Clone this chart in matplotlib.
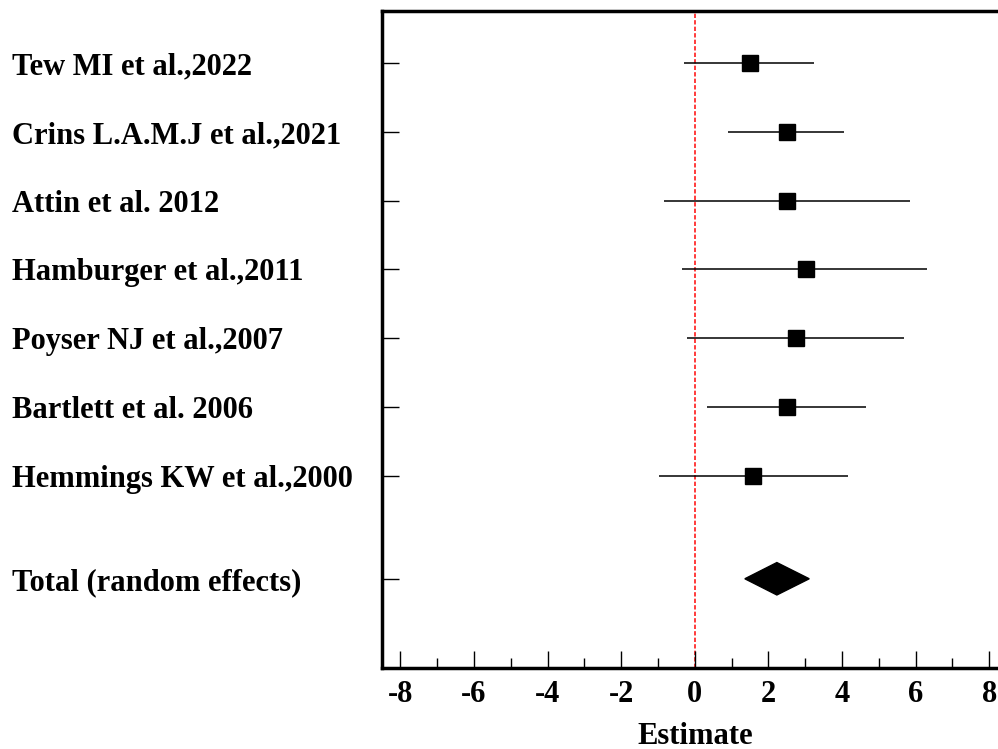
import matplotlib
matplotlib.use("Agg")
import matplotlib.pyplot as plt
import matplotlib.transforms as mtransforms
from matplotlib.patches import Polygon
from matplotlib.ticker import MultipleLocator

# Study data
studies = ["Tew MI et al.,2022", "Crins L.A.M.J et al.,2021", "Attin et al. 2012",
           "Hamburger et al.,2011", "Poyser NJ et al.,2007", "Bartlett et al. 2006",
           "Hemmings KW et al.,2000"]
estimate = [1.49, 2.50, 2.50, 3.03, 2.74, 2.50, 1.59]
lower = [-0.30, 0.91, -0.83, -0.34, -0.20, 0.33, -0.96]
upper = [3.25, 4.06, 5.84, 6.32, 5.69, 4.64, 4.15]

total_label = "Total (random effects)"
total_est = 2.23
total_low = 1.36
total_up = 3.11

plt.rcParams['font.family'] = ['Liberation Serif', 'DejaVu Serif']
plt.rcParams['font.weight'] = 'bold'

fig = plt.figure(figsize=(9.98, 7.49), dpi=100)
W, H = 998, 749
left, right, top, bottom = 382, 1007.6, 11, 667.7
ax = fig.add_axes([left / W, 1 - bottom / H, (right - left) / W, (bottom - top) / H])

rows = list(range(len(studies)))
total_row = 7.5

# confidence intervals and point estimates
for y, est, lo, hi in zip(rows, estimate, lower, upper):
    ax.plot([lo, hi], [y, y], color="black", lw=1.1, solid_capstyle="butt", zorder=2)
    ax.plot(est, y, marker="s", color="black", markersize=11.3, zorder=3)

# pooled diamond
half_h = 0.236
diamond = Polygon([(total_low, total_row), (total_est, total_row - half_h),
                   (total_up, total_row), (total_est, total_row + half_h)],
                  closed=True, facecolor="black", edgecolor="black", zorder=3)
ax.add_patch(diamond)

# zero line
ax.axvline(0, color="#ff1a1a", lw=1.2, linestyle=(0, (2.6, 1.3)), zorder=1)

ax.set_xlim(-8.5, 8.5)
ax.set_ylim(8.794, -0.761)

ax.xaxis.set_major_locator(MultipleLocator(2))
ax.xaxis.set_minor_locator(MultipleLocator(1))
ax.tick_params(axis="x", which="major", direction="in", length=12.5, width=1.0,
               labelsize=22, pad=9, top=False)
ax.tick_params(axis="x", which="minor", direction="in", length=7, width=1.0, top=False)
ax.set_xticks(range(-8, 9, 2))
ax.set_xticklabels([str(v) for v in range(-8, 9, 2)], fontweight="bold")

ax.set_yticks(rows + [total_row])
ax.set_yticklabels([])
ax.tick_params(axis="y", direction="in", length=12.5, width=1.0, right=False)

for sp in ax.spines.values():
    sp.set_linewidth(2.5)

ax.set_xlabel("Estimate", fontsize=22, fontweight="bold", labelpad=9)

# study labels on the left
trans = mtransforms.blended_transform_factory(fig.transFigure, ax.transData)
for y, name in zip(rows, studies):
    ax.text(12 / W, y, name, transform=trans, ha="left", va="center_baseline",
            fontsize=22, fontweight="bold")
ax.text(12 / W, total_row, total_label, transform=trans, ha="left", va="center_baseline",
        fontsize=22, fontweight="bold")

fig.savefig("out.png", dpi=100)
